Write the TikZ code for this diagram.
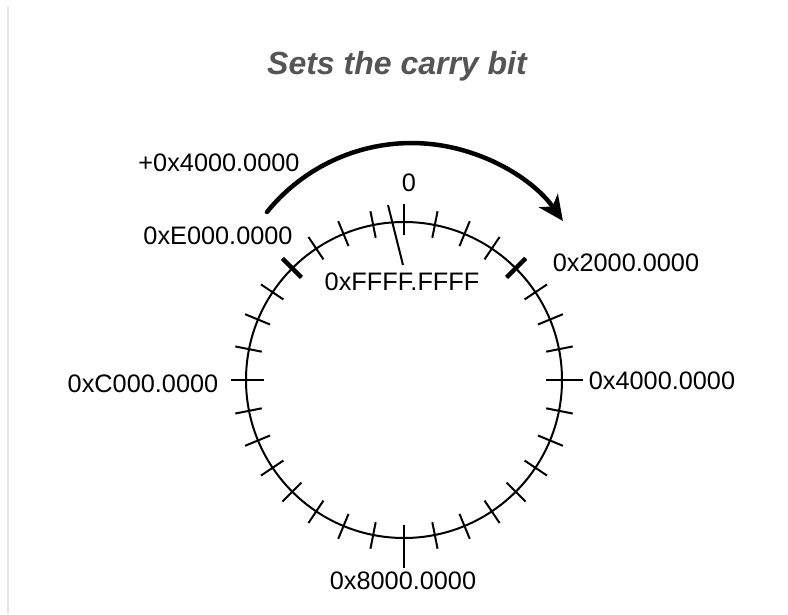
\documentclass[tikz,border=0pt]{standalone}
\usepackage{fontspec}
\usepackage{xcolor}
\setmainfont{Liberation Sans}
\usetikzlibrary{arrows.meta,calc}

\definecolor{titlegray}{HTML}{555555}
\definecolor{edgegray}{HTML}{E6E6E6}

\tikzset{
  addr/.style={inner sep=0pt, font=\fontsize{25.3}{30}\selectfont},
  tick/.style={line width=2pt},
  bigtick/.style={line width=4.5pt},
}

\begin{document}
\begin{tikzpicture}[x=1pt,y=1pt]
    \useasboundingbox (0,0) rectangle (788,614);
    \fill[white] (0,0) rectangle (788,614);
    \draw[edgegray, line width=1.5pt] (8,608) -- (8,0);
    \node[inner sep=0pt, anchor=base, text=titlegray,
          font=\fontsize{32}{38}\selectfont\bfseries\itshape] (title) at (397,539) {Sets the carry bit};

    % the ring of addresses
    \coordinate (c) at (404,234);
    \draw[line width=2pt] (c) circle (158);
    \foreach \a in {0,11.25,...,359} {
        \draw[tick] ($(c)+(\a:145)$) -- ($(c)+(\a:172)$);
    }
    % quarter marks
    \draw[tick] ($(c)+(90:145)$) -- ($(c)+(90:176)$);
    \draw[tick] ($(c)+(0:142)$) -- ($(c)+(0:179)$);
    \draw[tick] ($(c)+(270:150)$) -- ($(c)+(270:188)$);
    \draw[tick] ($(c)+(180:140)$) -- ($(c)+(180:173)$);
    % eighth marks
    \draw[bigtick] ($(c)+(45:145)$) -- ($(c)+(45:172)$);
    \draw[bigtick] ($(c)+(135:145)$) -- ($(c)+(135:172)$);
    % last address just before 0
    \draw[tick] (388,409) -- (403,349);

    % the step of +0x4000.0000
    \draw[line width=4.5pt, line cap=round, -{Stealth[length=25pt,width=23pt,inset=7pt]}]
        (267,402) arc (141:35.5:186);

    \node[addr] (zero) at (409,431) {0};
    \node[addr] (ffff) at (402,332) {0xFFFF.FFFF};
    \node[addr] (plus) at (219,451) {+0x4000.0000};
    \node[addr] (e000) at (218,378) {0xE000.0000};
    \node[addr] (a2000) at (626,351) {0x2000.0000};
    \node[addr] (c000) at (143,230) {0xC000.0000};
    \node[addr] (a4000) at (662,233) {0x4000.0000};
    \node[addr] (a8000) at (403,33) {0x8000.0000};
\end{tikzpicture}
\end{document}
